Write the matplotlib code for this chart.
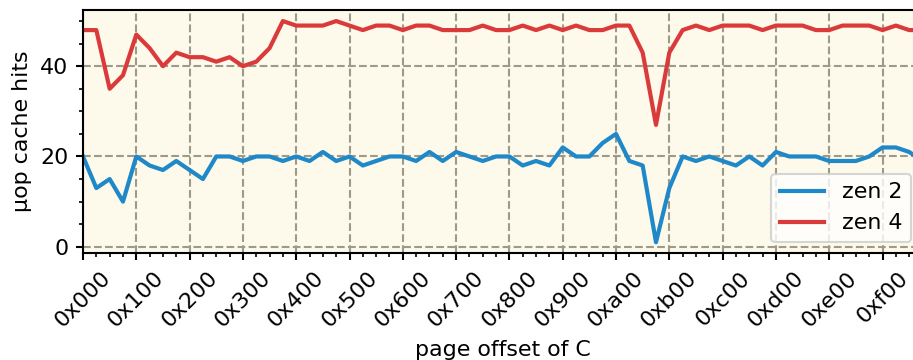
import matplotlib
matplotlib.use("Agg")
import matplotlib.pyplot as plt
import numpy as np
from matplotlib.ticker import MultipleLocator, FuncFormatter

# ── Data (one sample every 0x40 bytes of page offset) ────────────────────────
STEP = 0x40
zen2 = [20, 13, 15, 10, 20, 18, 17, 19, 17, 15, 20, 20, 19, 20, 20, 19,
        20, 19, 21, 19, 20, 18, 19, 20, 20, 19, 21, 19, 21, 20, 19, 20,
        20, 18, 19, 18, 22, 20, 20, 23, 25, 19, 18, 1, 13, 20, 19, 20,
        19, 18, 20, 18, 21, 20, 20, 20, 19, 19, 19, 20, 22, 22, 21, 19]
zen4 = [48, 48, 35, 38, 47, 44, 40, 43, 42, 42, 41, 42, 40, 41, 44, 50,
        49, 49, 49, 50, 49, 48, 49, 49, 48, 49, 49, 48, 48, 48, 49, 48,
        48, 49, 48, 49, 48, 49, 48, 48, 49, 49, 43, 27, 43, 48, 49, 48,
        49, 49, 49, 48, 49, 49, 49, 48, 48, 49, 49, 49, 48, 49, 48, 48]
offsets = np.arange(len(zen2)) * STEP

BLUE = "#1f88c9"
RED = "#db3a3b"

plt.rcParams.update({
    "font.family": "DejaVu Sans",
    "font.size": 10.6,
    "axes.linewidth": 1.0,
    "xtick.major.width": 1.0,
    "ytick.major.width": 1.0,
    "xtick.minor.width": 0.8,
    "ytick.minor.width": 0.8,
})

fig = plt.figure(figsize=(913 / 150, 360 / 150), dpi=150)
ax = fig.add_axes([83 / 913, 1 - 253.3 / 360, 839.5 / 913, 243.3 / 360])
ax.set_facecolor("#fdf9eb")

ax.plot(offsets, zen2, color=BLUE, lw=2.0, label="zen 2")
ax.plot(offsets, zen4, color=RED, lw=2.0, label="zen 4")

ax.margins(x=0)
ax.xaxis.set_major_locator(MultipleLocator(0x100))
ax.xaxis.set_minor_locator(MultipleLocator(0x40))
ax.xaxis.set_major_formatter(FuncFormatter(lambda v, _: f"0x{int(v):03x}"))
ax.yaxis.set_major_locator(MultipleLocator(20))
ax.yaxis.set_minor_locator(MultipleLocator(5))
plt.setp(ax.get_xticklabels(), rotation=45)

ax.grid(True, which="major", linestyle="--", color="#9c9a88", lw=1.0)
ax.set_axisbelow(True)
ax.set_xlabel("page offset of C")
ax.set_ylabel("μop cache hits")
ax.legend(loc="lower right")

fig.savefig("out.png", dpi=150)
